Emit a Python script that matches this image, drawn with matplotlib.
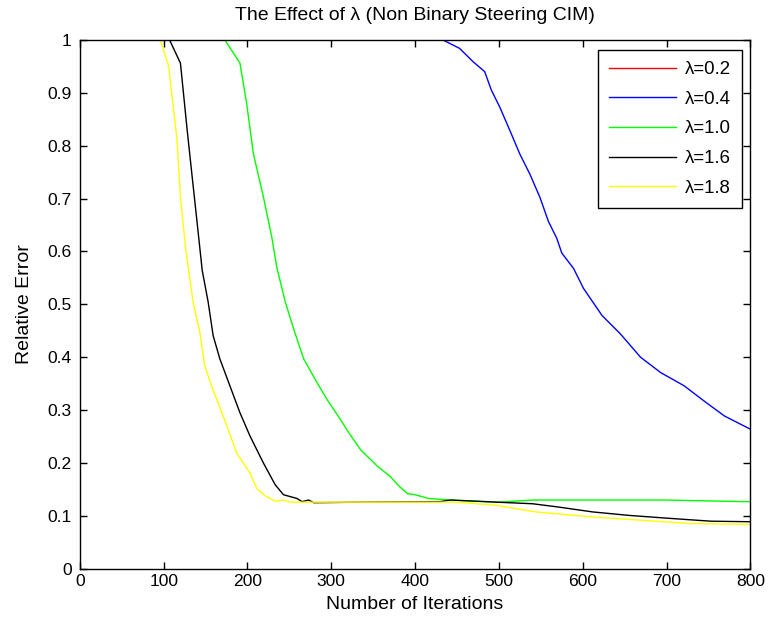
import matplotlib
matplotlib.use("Agg")
from matplotlib import pyplot as plt

# lambda = 0.2 never enters the visible range (error stays above 1)
iter_02 = [0, 400, 800]
err_02 = [1.2, 1.15, 1.1]

iter_04 = [0, 433, 453, 469, 483, 491, 501, 513, 525, 537, 549, 559, 569, 575,
           589, 601, 623, 645, 669, 693, 721, 745, 769, 800]
err_04 = [1.0, 1.0, 0.984, 0.959, 0.94, 0.905, 0.873, 0.829, 0.784, 0.746, 0.702,
          0.657, 0.625, 0.597, 0.568, 0.53, 0.479, 0.444, 0.4, 0.371, 0.346,
          0.317, 0.289, 0.264]

iter_10 = [0, 173, 191, 199, 207, 219, 229, 235, 245, 255, 267, 283, 295, 311,
           321, 335, 355, 370, 381, 391, 400, 416, 442, 500, 540, 700, 790, 800]
err_10 = [1.0, 1.0, 0.956, 0.88, 0.785, 0.703, 0.627, 0.57, 0.505, 0.454, 0.397,
          0.352, 0.32, 0.282, 0.257, 0.225, 0.194, 0.175, 0.156, 0.142, 0.14,
          0.133, 0.13, 0.126, 0.13, 0.13, 0.127, 0.127]

iter_16 = [0, 107, 120, 124, 128, 134, 140, 146, 153, 159, 167, 179, 191, 203,
           219, 233, 243, 259, 265, 273, 279, 340, 430, 442, 497, 540, 570, 612,
           655, 698, 753, 800]
err_16 = [1.0, 1.0, 0.956, 0.893, 0.83, 0.741, 0.653, 0.564, 0.505, 0.441, 0.397,
          0.346, 0.295, 0.251, 0.2, 0.159, 0.14, 0.133, 0.127, 0.13, 0.125,
          0.126, 0.127, 0.13, 0.126, 0.123, 0.117, 0.1075, 0.101, 0.096, 0.09,
          0.089]

iter_18 = [0, 96, 106, 110, 116, 120, 126, 132, 135, 143, 149, 157, 165, 177,
           187, 203, 211, 221, 233, 243, 251, 450, 497, 544, 612, 668, 727, 800]
err_18 = [1.0, 1.0, 0.95, 0.893, 0.81, 0.703, 0.609, 0.539, 0.505, 0.448, 0.384,
          0.346, 0.314, 0.263, 0.219, 0.181, 0.152, 0.138, 0.128, 0.13, 0.126,
          0.126, 0.12, 0.1075, 0.098, 0.092, 0.0856, 0.084]

labels = ["λ=0.2", "λ=0.4", "λ=1.0", "λ=1.6", "λ=1.8"]
colors = ["#ff0000", "#0000ff", "#00ff00", "#000000", "#ffff00"]

plt.rcParams["font.family"] = ["Liberation Sans", "DejaVu Sans"]

fig = plt.figure(figsize=(7.68, 6.23), dpi=100)
ax = fig.add_axes([0.104, 0.087, 0.873, 0.849])

series = [(iter_02, err_02), (iter_04, err_04), (iter_10, err_10),
          (iter_16, err_16), (iter_18, err_18)]
for (xs, ys), lab, col in zip(series, labels, colors):
    ax.plot(xs, ys, color=col, lw=1.0, label=lab)

ax.set_xlim(0, 800)
ax.set_ylim(0, 1)
ax.set_xticks(range(0, 801, 100))
ax.set_yticks([i / 10 for i in range(11)])
ax.set_yticklabels(["0", "0.1", "0.2", "0.3", "0.4", "0.5", "0.6", "0.7", "0.8", "0.9", "1"])
ax.tick_params(direction="in", top=True, right=True, labelsize=12.6, length=5, width=1)
ax.tick_params(axis="y", pad=6)
ax.tick_params(axis="x", pad=4)
for sp in ax.spines.values():
    sp.set_linewidth(1.0)

ax.set_xlabel("Number of Iterations", fontsize=14, labelpad=5)
ax.set_ylabel("Relative Error", fontsize=14, labelpad=10)
ax.set_title("The Effect of λ (Non Binary Steering CIM)", fontsize=14, pad=14)

leg = ax.legend(loc="upper right", bbox_to_anchor=(0.988, 0.981), fontsize=13.4,
                fancybox=False, framealpha=1, edgecolor="black", borderaxespad=0,
                handlelength=3.6, handletextpad=0.5, labelspacing=0.68, borderpad=0.6)
leg.get_frame().set_linewidth(1.0)

fig.savefig("out.png", dpi=100)
